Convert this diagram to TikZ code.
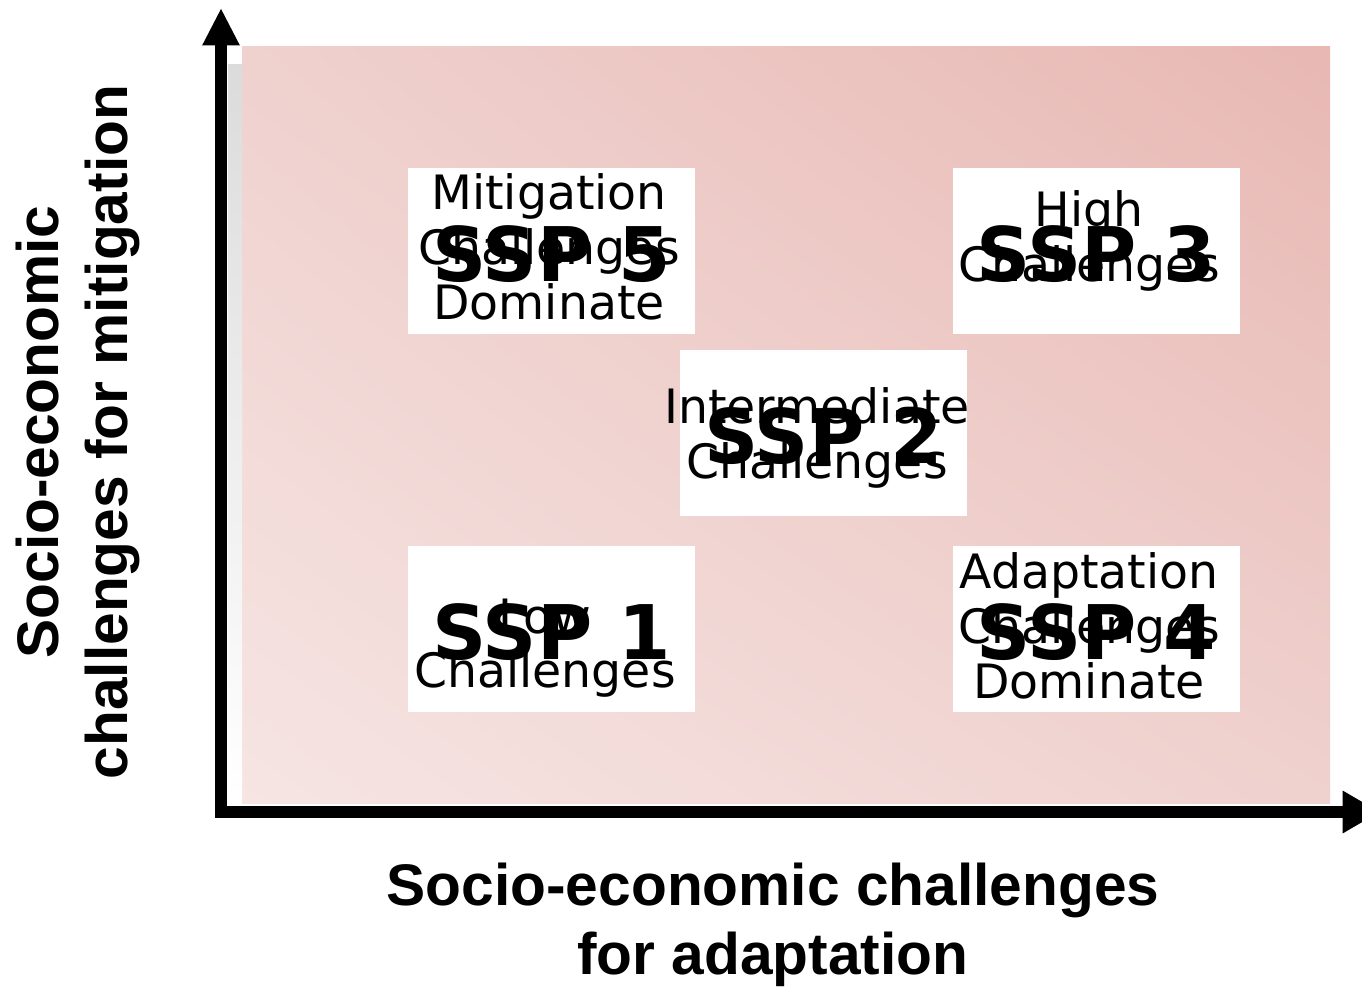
\documentclass[tikz,border=0pt]{standalone}
\usepackage{fontspec}
\setmainfont{DejaVu Sans}
\newfontfamily\axisfont{Liberation Sans}
\usetikzlibrary{arrows.meta,shadings}

\definecolor{pinkhi}{RGB}{232,184,179}
\definecolor{pinkmid}{RGB}{239,209,206}
\definecolor{pinklo}{RGB}{246,229,227}

\begin{document}
\begin{tikzpicture}[x=0.75pt,y=0.75pt,yscale=-1,xscale=1,
	sspbox/.style={fill=white,inner sep=0pt,minimum width=215.25pt,minimum height=124.5pt,text height=46pt,text depth=0pt,font=\fontsize{56.5}{62}\selectfont\bfseries},
	ssptext/.style={inner sep=0pt,align=center,font=\fontsize{35.5}{41}\selectfont},
	axislabel/.style={inner sep=0pt,align=center,font=\axisfont\bfseries\fontsize{44}{52}\selectfont},
	axis/.style={line width=9pt,{Triangle[length=28pt,width=26pt]}-{Triangle[length=28pt,width=30pt]}}]
	\useasboundingbox (0,0) rectangle (1362,988);
	
	%Shape: Rectangle [background]
	\shade [upper right=pinkhi,lower left=pinklo,upper left=pinkmid,lower right=pinkmid] (242,47) rectangle (1330,803);
	%Shape: Rectangle [left strip]
	\shade [top color=black!14,bottom color=white] (228,65) rectangle (242,800);
	
	%Axes
	\coordinate (ytip) at (221,8);
	\coordinate (origin) at (221,812);
	\coordinate (xtip) at (1380,812);
	\draw [axis] (ytip) -- (origin) -- (xtip);
	
	%Shape: Boxes
	\node [sspbox] (ssp5) at (551.5,251) {SSP 5};
	\node [sspbox] (ssp3) at (1096,251) {SSP 3};
	\node [sspbox] (ssp2) at (823.5,433) {SSP 2};
	\node [sspbox] (ssp1) at (551.5,629) {SSP 1};
	\node [sspbox] (ssp4) at (1096,629) {SSP 4};
	
	% Text Node
	\node [ssptext] (txt5) at (549,247) {Mitigation\\Challenges\\Dominate};
	% Text Node
	\node [ssptext] (txt3) at (1089,241) {High\\Challenges};
	% Text Node
	\node [ssptext] (txt2) at (817,438) {Intermediate\\Challenges};
	% Text Node
	\node [ssptext] (txt1) at (545,648) {Low\\Challenges};
	% Text Node
	\node [ssptext] (txt4) at (1089,626) {Adaptation\\Challenges\\Dominate};
	
	% Text Node
	\node [axislabel] (xlabel) at (773,925) {Socio-economic challenges\\for adaptation};
	% Text Node
	\node [axislabel,rotate=90] (ylabel) at (78,432) {Socio-economic\\challenges for mitigation};
\end{tikzpicture}
\end{document}
